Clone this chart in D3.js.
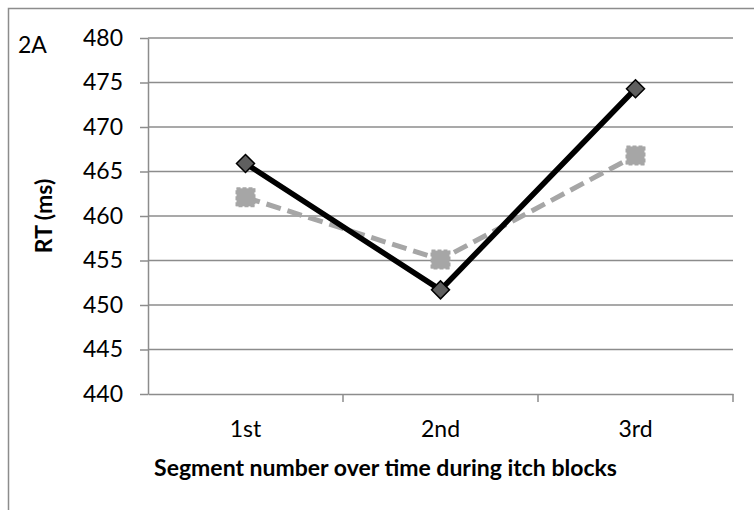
<!DOCTYPE html>
<html>
<head>
<meta charset="utf-8">
<script src="https://cdn.jsdelivr.net/npm/d3@7"></script>
<style>
  html, body { margin: 0; padding: 0; background: #fff; }
  svg { display: block; }
</style>
</head>
<body>
<div id="chart"></div>
<script>
const segments = ["1st", "2nd", "3rd"];
const solidSeries = [465.9, 451.7, 474.3];
const dashedSeries = [462.1, 455.1, 466.8];
const yTicks = [440, 445, 450, 455, 460, 465, 470, 475, 480];

function renderChart() {
    const width = 754;
    const height = 510;
    const font = "Lato, 'Open Sans', sans-serif";
    const margin = { left: 148, right: 21, top: 38, bottom: 116 };

    const svg = d3.select("#chart").append("svg")
        .attr("width", width)
        .attr("height", height);

    // outer frame, runs off the bottom and right edge
    svg.append("rect")
        .attr("x", 8.5)
        .attr("y", 8.5)
        .attr("width", width + 20)
        .attr("height", height + 20)
        .attr("fill", "#fff")
        .attr("stroke", "#8c8c8c")
        .attr("stroke-width", 1.5);

    const x = d3.scaleBand()
        .domain(segments)
        .range([margin.left, width - margin.right]);
    const y = d3.scaleLinear()
        .domain([440, 480])
        .range([height - margin.bottom, margin.top]);

    // gridlines
    svg.append("g")
        .selectAll("line")
        .data(yTicks.slice(1))
        .join("line")
        .attr("x1", margin.left)
        .attr("x2", width - margin.right)
        .attr("y1", (d) => y(d))
        .attr("y2", (d) => y(d))
        .attr("stroke", "#8c8c8c")
        .attr("stroke-width", 1.5);

    const yAxis = svg.append("g")
        .attr("transform", `translate(${margin.left},0)`)
        .call(d3.axisLeft(y).tickValues(yTicks).tickSize(8).tickPadding(17).tickSizeOuter(0));
    yAxis.selectAll("line, path").attr("stroke", "#8c8c8c").attr("stroke-width", 1.5);
    yAxis.selectAll("text")
        .attr("font-family", font)
        .attr("font-size", 23)
        .attr("fill", "#000");

    const xAxis = svg.append("g")
        .attr("transform", `translate(0,${y(440)})`)
        .call(d3.axisBottom(x).tickSize(0).tickPadding(27).tickSizeOuter(0));
    xAxis.select("path").attr("stroke", "#8c8c8c").attr("stroke-width", 1.5);
    xAxis.selectAll("text")
        .attr("font-family", font)
        .attr("font-size", 23)
        .attr("fill", "#000");

    // category boundary ticks
    svg.append("g")
        .selectAll("line")
        .data(segments)
        .join("line")
        .attr("x1", (d) => x(d) + x.bandwidth())
        .attr("x2", (d) => x(d) + x.bandwidth())
        .attr("y1", y(440))
        .attr("y2", y(440) + 8)
        .attr("stroke", "#8c8c8c")
        .attr("stroke-width", 1.5);

    const line = d3.line()
        .x((d, i) => x(segments[i]) + x.bandwidth() / 2)
        .y((d) => y(d));

    // dashed grey series
    svg.append("path")
        .datum(dashedSeries)
        .attr("d", line)
        .attr("fill", "none")
        .attr("stroke", "#a6a6a6")
        .attr("stroke-width", 5)
        .attr("stroke-dasharray", "15,7");

    svg.append("g")
        .selectAll("rect")
        .data(dashedSeries)
        .join("rect")
        .attr("x", (d, i) => x(segments[i]) + x.bandwidth() / 2 - 9)
        .attr("y", (d) => y(d) - 9)
        .attr("width", 18)
        .attr("height", 18)
        .attr("fill", "#a6a6a6")
        .attr("stroke", "#a6a6a6")
        .attr("stroke-width", 2)
        .attr("stroke-dasharray", "4,2");

    // solid black series
    svg.append("path")
        .datum(solidSeries)
        .attr("d", line)
        .attr("fill", "none")
        .attr("stroke", "#000")
        .attr("stroke-width", 5.5);

    svg.append("g")
        .selectAll("path")
        .data(solidSeries)
        .join("path")
        .attr("transform", (d, i) => `translate(${x(segments[i]) + x.bandwidth() / 2},${y(d)})`)
        .attr("d", "M0,-9L9,0L0,9L-9,0Z")
        .attr("fill", "#5f5f5f")
        .attr("stroke", "#000")
        .attr("stroke-width", 1.5);

    svg.append("text")
        .attr("x", 18)
        .attr("y", 53)
        .attr("font-family", font)
        .attr("font-size", 23)
        .text("2A");

    svg.append("text")
        .attr("transform", `translate(52,${(y(440) + y(480)) / 2}) rotate(-90)`)
        .attr("text-anchor", "middle")
        .attr("font-family", font)
        .attr("font-size", 23)
        .attr("font-weight", "bold")
        .text("RT (ms)");

    svg.append("text")
        .attr("x", (margin.left + width - margin.right) / 2 - 55)
        .attr("y", 476)
        .attr("text-anchor", "middle")
        .attr("font-family", font)
        .attr("font-size", 23)
        .attr("font-weight", "bold")
        .text("Segment number over time during itch blocks");
}

renderChart();
</script>
</body>
</html>
